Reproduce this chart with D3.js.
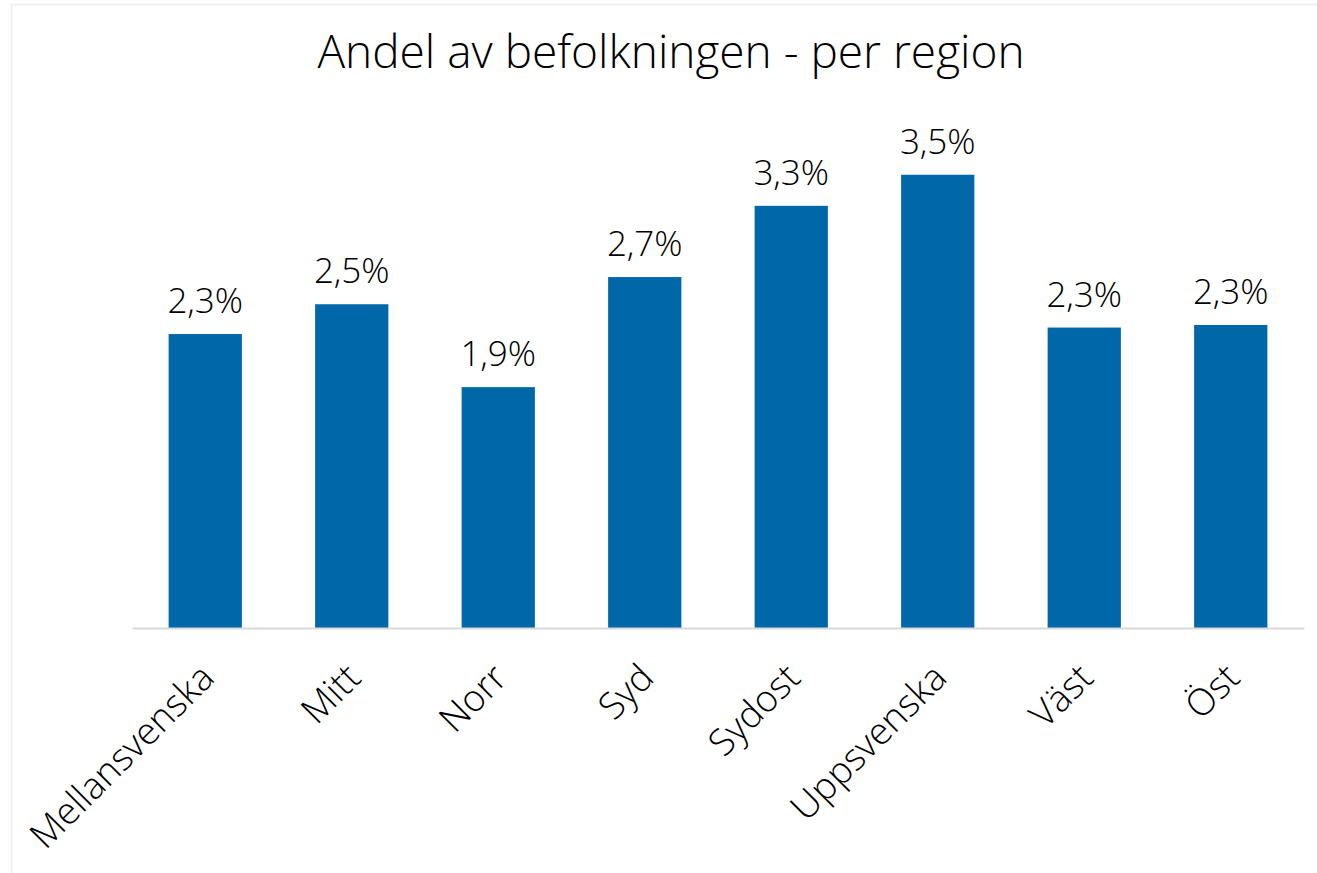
<!DOCTYPE html>
<html>
<head>
<meta charset="utf-8">
<script src="https://cdn.jsdelivr.net/npm/d3@7"></script>
<style>
  html, body { margin: 0; padding: 0; background: #fff; }
  svg text { font-family: "Open Sans", Lato, sans-serif; fill: #000; }
</style>
</head>
<body>
<div id="chart"></div>
<script>
// Chart data (share of population per region, %)
const regions = ['Mellansvenska', 'Mitt', 'Norr', 'Syd', 'Sydost', 'Uppsvenska', 'Väst', 'Öst'];
const shares = [2.27, 2.50, 1.86, 2.71, 3.26, 3.50, 2.32, 2.34];
const title = 'Andel av befolkningen - per region';

const width = 1317, height = 873;
const margin = { top: 110, right: 13, bottom: 245, left: 132 };

const svg = d3.select('#chart')
    .append('svg')
    .attr('width', width)
    .attr('height', height);

// Chart area frame
svg.append('rect')
    .attr('x', 11.5)
    .attr('y', 4.5)
    .attr('width', width + 20)
    .attr('height', height + 20)
    .attr('fill', '#fff')
    .attr('stroke', '#eeeeee')
    .attr('stroke-width', 1.5);

const data = regions.map((r, i) => ({ region: r, value: shares[i] }));

const x = d3.scaleBand()
    .domain(regions)
    .range([margin.left, width - margin.right])
    .paddingInner(0.5)
    .paddingOuter(0.25);

const y = d3.scaleLinear()
    .domain([0, 4])
    .range([height - margin.bottom, margin.top]);

const fmt = v => d3.format('.1f')(v).replace('.', ',') + '%';

// Title
svg.append('text')
    .attr('x', 671)
    .attr('y', 68)
    .attr('text-anchor', 'middle')
    .attr('font-size', '46px')
    .attr('font-weight', 300)
    .text(title);

// Bars
svg.append('g').selectAll('rect').data(data)
    .enter()
    .append('rect')
    .attr('x', d => x(d.region))
    .attr('y', d => y(d.value))
    .attr('width', x.bandwidth())
    .attr('height', d => y(0) - y(d.value))
    .attr('fill', '#0068a9');

// Value labels
svg.append('g').selectAll('text').data(data)
    .enter()
    .append('text')
    .attr('x', d => x(d.region) + x.bandwidth() / 2)
    .attr('y', d => y(d.value) - 21)
    .attr('text-anchor', 'middle')
    .attr('font-size', '35px')
    .attr('font-weight', 300)
    .text(d => fmt(d.value));

// X axis
const xAxis = svg.append('g')
    .attr('transform', `translate(0,${y(0)})`)
    .call(d3.axisBottom(x).tickSize(0).tickPadding(0));

xAxis.select('.domain')
    .attr('stroke', '#d9d9d9')
    .attr('stroke-width', 2);

xAxis.selectAll('text')
    .attr('font-size', '37px')
    .attr('font-weight', 300)
    .attr('text-anchor', 'end')
    .attr('dy', null)
    .attr('transform', 'translate(11,52) rotate(-45)')
    .style('font-family', '"Open Sans", Lato, sans-serif')
    .attr('fill', '#000');
</script>
</body>
</html>
